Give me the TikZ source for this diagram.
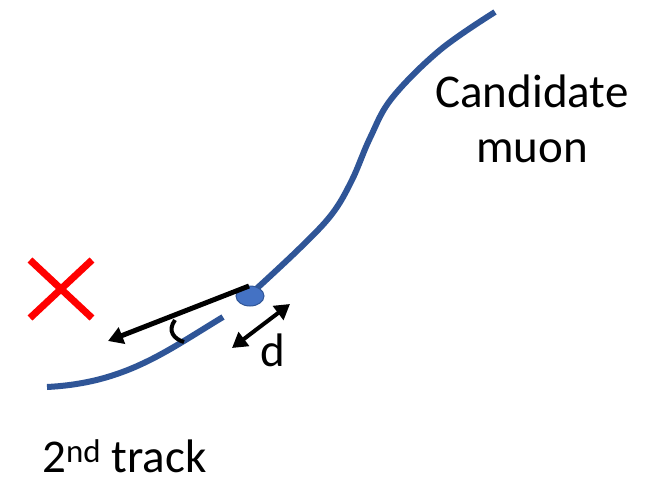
\documentclass[tikz,border=0pt]{standalone}
\usepackage{fontspec}
\setmainfont{Carlito}
\usetikzlibrary{arrows.meta,shapes.geometric}
\definecolor{trackblue}{HTML}{2F5597}
\definecolor{dotblue}{HTML}{4472C4}
\tikzset{
  track/.style={draw=trackblue,line width=6pt},
  vec/.style={draw=black,line width=5pt},
  bigtip/.tip={Triangle[length=15pt,width=17pt]},
  lbl/.style={font=\fontsize{47}{56}\selectfont,inner sep=0pt,anchor=base},
}
\begin{document}
\begin{tikzpicture}[x=1pt,y=-1pt]
\useasboundingbox (0,0) rectangle (664,482);
% candidate muon track
\draw[track] plot[smooth,tension=0.6] coordinates{(254,291) (300,248) (332,214) (352,180) (370,138) (392,98) (440,50) (495,12)};
% second track
\coordinate (s1) at (223,317);
\coordinate (s2) at (47,387);
\draw[track] (s1) .. controls (165,352) and (125,383) .. (s2);
% vertex
\node[ellipse,minimum width=28pt,minimum height=20pt,inner sep=0pt,fill=dotblue,draw=trackblue,line width=1pt] (vtx) at (250,296) {};
% direction vector
\coordinate (vstart) at (249,286);
\coordinate (vend) at (108,341);
\draw[vec,-{bigtip}] (vstart) -- (vend);
% angle arc
\draw[vec,line width=4pt] (175,320) .. controls (167,331) and (174,339) .. (184,342);
% distance arrow
\coordinate (da) at (290,304);
\coordinate (db) at (232,348);
\draw[vec,line width=4pt,{bigtip}-{bigtip}] (db) -- (da);
\node[lbl] (dl) at (273,366) {d};
% red cross
\coordinate (x1) at (30,260);
\coordinate (x2) at (92,318);
\coordinate (x3) at (92,260);
\coordinate (x4) at (30,318);
\draw[red,line width=7pt] (x1) -- (x2) (x3) -- (x4);
% labels
\node[lbl] (cand) at (532,107) {Candidate};
\node[lbl] (muon) at (532,162) {muon};
\node[lbl,anchor=base west] (second) at (42,472) {2\textsuperscript{nd} track};
\end{tikzpicture}
\end{document}
